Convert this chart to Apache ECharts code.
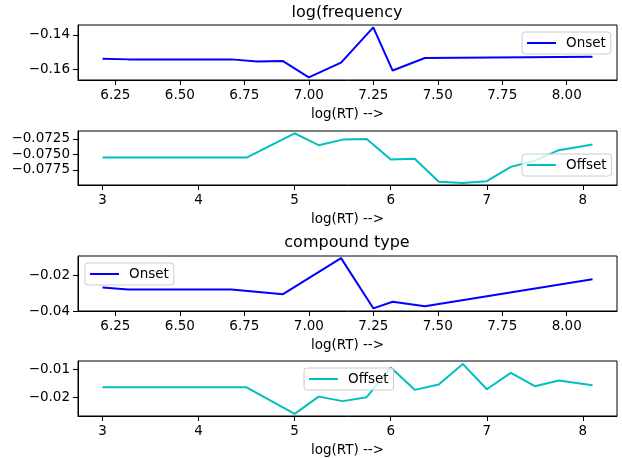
<!DOCTYPE html>
<html>
<head>
<meta charset="utf-8">
<script src="https://cdn.jsdelivr.net/npm/echarts@6/dist/echarts.min.js"></script>
<style>
  html, body { margin: 0; padding: 0; background: #fff; }
  #chart { width: 622px; height: 458px; }
</style>
</head>
<body>
<div id="chart"></div>
<script>
// log(frequency) panel
var rtFreq = [6.2, 6.3, 6.7, 6.8, 6.9, 7.0, 7.125, 7.25, 7.325, 7.45, 8.1];
var freqOnset = [-0.1538, -0.1542, -0.1542, -0.1555, -0.1552, -0.1647, -0.1561, -0.1356, -0.1607, -0.1534, -0.1527];
var rtFreqOff = [3, 4.5, 5, 5.25, 5.5, 5.75, 6, 6.25, 6.5, 6.75, 7, 7.25, 7.5, 7.75, 8.1];
var freqOffset = [-0.0755, -0.0755, -0.0716, -0.0735, -0.0726, -0.0725, -0.0758, -0.0757, -0.0794, -0.0796, -0.0793, -0.0770, -0.0760, -0.0743, -0.0734];
// compound type panel
var rtComp = [6.2, 6.3, 6.7, 6.9, 7.125, 7.25, 7.325, 7.45, 8.1];
var compOnset = [-0.0269, -0.0280, -0.0280, -0.0306, -0.0104, -0.0385, -0.0348, -0.0374, -0.0222];
var rtCompOff = [3, 4.5, 5, 5.25, 5.5, 5.75, 6, 6.25, 6.5, 6.75, 7, 7.25, 7.5, 7.75, 8.1];
var compOffset = [-0.0164, -0.0164, -0.0258, -0.0197, -0.0213, -0.0199, -0.0094, -0.0173, -0.0154, -0.0081, -0.0171, -0.0113, -0.0160, -0.0140, -0.0157];

// tick labels
var xTicksOnset = [6.25, 6.5, 6.75, 7.0, 7.25, 7.5, 7.75, 8.0];
var xTicksOffset = [3, 4, 5, 6, 7, 8];
var yTicksFreqOn = [-0.16, -0.14];
var yTicksFreqOff = [-0.0775, -0.075, -0.0725];
var yTicksCompOn = [-0.04, -0.02];
var yTicksCompOff = [-0.02, -0.01];

var FONT = 'DejaVu Sans';
var FS = 13.5;

function pairs(xs, ys) {
  return xs.map(function (x, i) { return [x, ys[i]]; });
}
function minus(s) { return s.replace('-', '\u2212'); }

var grids = [
  { left: 78, top: 25, width: 539, height: 55 },
  { left: 78, top: 131, width: 539, height: 54 },
  { left: 78, top: 256, width: 539, height: 55 },
  { left: 78, top: 361, width: 539, height: 55 }
];

function xAxis(idx, min, max, ticks, dec) {
  return {
    type: 'value', gridIndex: idx, min: min, max: max,
    name: 'log(RT) -->', nameLocation: 'middle', nameGap: 27,
    nameTextStyle: { fontFamily: FONT, fontSize: FS, color: '#000' },
    axisLine: { show: true, onZero: false, lineStyle: { color: '#000', width: 1 } },
    axisTick: { show: true, length: 5, customValues: ticks, lineStyle: { color: '#000' } },
    axisLabel: {
      customValues: ticks, margin: 8, fontFamily: FONT, fontSize: FS, color: '#000',
      formatter: function (v) { return v.toFixed(dec); }
    },
    splitLine: { show: false }
  };
}
function yAxis(idx, min, max, ticks, dec) {
  return {
    type: 'value', gridIndex: idx, min: min, max: max,
    axisLine: { show: true, onZero: false, lineStyle: { color: '#000', width: 1 } },
    axisTick: { show: true, length: 5, customValues: ticks, lineStyle: { color: '#000' } },
    axisLabel: {
      customValues: ticks, margin: 8, fontFamily: FONT, fontSize: FS, color: '#000',
      formatter: function (v) { return minus(v.toFixed(dec)); }
    },
    splitLine: { show: false }
  };
}
function legend(name, left, top) {
  return {
    data: [name], left: left, top: top, orient: 'vertical',
    icon: 'rect', itemWidth: 29, itemHeight: 2, itemGap: 5,
    padding: [4, 5, 4, 5], selectedMode: false,
    backgroundColor: 'rgba(255,255,255,0.8)', borderColor: '#ccc', borderWidth: 1, borderRadius: 3,
    textStyle: { fontFamily: FONT, fontSize: FS, color: '#000', padding: [0, 0, 0, 5] }
  };
}
function line(name, idx, color, data) {
  return {
    name: name, type: 'line', xAxisIndex: idx, yAxisIndex: idx,
    data: data, showSymbol: false, color: color,
    lineStyle: { color: color, width: 2 }
  };
}

var chart = echarts.init(document.getElementById('chart'), null, { renderer: 'canvas' });
chart.setOption({
  animation: false,
  backgroundColor: '#fff',
  title: [
    { text: 'log(frequency', left: 347, top: 5, padding: 0, textAlign: 'center',
      textStyle: { fontFamily: FONT, fontSize: 16, fontWeight: 'normal', color: '#000' } },
    { text: 'compound type', left: 347, top: 235, padding: 0, textAlign: 'center',
      textStyle: { fontFamily: FONT, fontSize: 16, fontWeight: 'normal', color: '#000' } }
  ],
  grid: grids.map(function (g) {
    return Object.assign({ show: true, borderColor: '#000', borderWidth: 1, backgroundColor: 'transparent' }, g);
  }),
  xAxis: [
    xAxis(0, 6.105, 8.195, xTicksOnset, 2),
    xAxis(1, 2.745, 8.355, xTicksOffset, 0),
    xAxis(2, 6.105, 8.195, xTicksOnset, 2),
    xAxis(3, 2.745, 8.355, xTicksOffset, 0)
  ],
  yAxis: [
    yAxis(0, -0.1662, -0.1342, yTicksFreqOn, 2),
    yAxis(1, -0.07992, -0.07121, yTicksFreqOff, 4),
    yAxis(2, -0.0400, -0.0092, yTicksCompOn, 2),
    yAxis(3, -0.02657, -0.00707, yTicksCompOff, 2)
  ],
  legend: [
    legend('Onset', 522, 32),
    legend('Offset', 522, 154),
    legend('Onset', 85, 263),
    legend('Offset', 304, 368)
  ],
  series: [
    line('Onset', 0, '#0000ff', pairs(rtFreq, freqOnset)),
    line('Offset', 1, '#00bfbf', pairs(rtFreqOff, freqOffset)),
    line('Onset', 2, '#0000ff', pairs(rtComp, compOnset)),
    line('Offset', 3, '#00bfbf', pairs(rtCompOff, compOffset))
  ]
});
</script>
</body>
</html>
